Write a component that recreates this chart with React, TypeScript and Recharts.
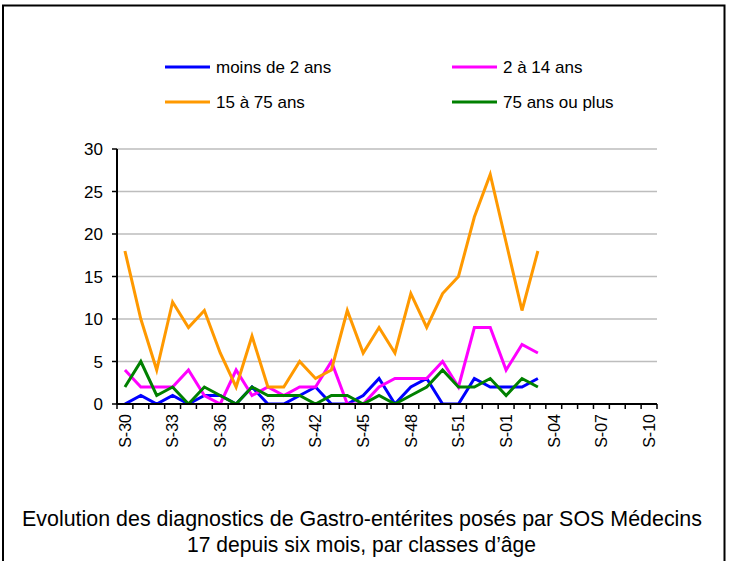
import React from 'react';
import { LineChart, Line, XAxis, YAxis, CartesianGrid, Legend } from 'recharts';

const weeks = [
  'S-30', 'S-31', 'S-32', 'S-33', 'S-34', 'S-35', 'S-36', 'S-37', 'S-38', 'S-39',
  'S-40', 'S-41', 'S-42', 'S-43', 'S-44', 'S-45', 'S-46', 'S-47', 'S-48', 'S-49',
  'S-50', 'S-51', 'S-52', 'S-53', 'S-01', 'S-02', 'S-03', 'S-04', 'S-05', 'S-06',
  'S-07', 'S-08', 'S-09', 'S-10',
];

const moins2 = [0, 1, 0, 1, 0, 1, 1, 0, 2, 0, 0, 1, 2, 0, 0, 1, 3, 0, 2, 3, 0, 0, 3, 2, 2, 2, 3];
const de2a14 = [4, 2, 2, 2, 4, 1, 0, 4, 1, 2, 1, 2, 2, 5, 0, 0, 2, 3, 3, 3, 5, 2, 9, 9, 4, 7, 6];
const de15a75 = [18, 10, 4, 12, 9, 11, 6, 2, 8, 2, 2, 5, 3, 4, 11, 6, 9, 6, 13, 9, 13, 15, 22, 27, 19, 11, 18];
const plus75 = [2, 5, 1, 2, 0, 2, 1, 0, 2, 1, 1, 1, 0, 1, 1, 0, 1, 0, 1, 2, 4, 2, 2, 3, 1, 3, 2];

const yTicks = [0, 5, 10, 15, 20, 25, 30];

const seriesNames = ['moins de 2 ans', '2 à 14 ans', '15 à 75 ans', '75 ans ou plus'];

const titleLines = [
  'Evolution des diagnostics de Gastro-entérites posés par SOS Médecins',
  '17 depuis six mois, par classes d\u2019âge',
];

const data = weeks.map((w, i) => ({
  week: w,
  a: moins2[i],
  b: de2a14[i],
  c: de15a75[i],
  d: plus75[i],
}));

const FONT = '"Liberation Sans", Arial, sans-serif';
const PLOT_W = 540;
const HALF = PLOT_W / weeks.length / 2;

const XTick = (props: any) => {
  const { x, y, payload, index } = props;
  const last = index === weeks.length - 1;
  return (
    <g>
      <line x1={x - HALF} x2={x - HALF} y1={y} y2={y + 5} stroke="#000" strokeWidth={1.5} />
      {last && <line x1={x + HALF} x2={x + HALF} y1={y} y2={y + 5} stroke="#000" strokeWidth={1.5} />}
      {index % 3 === 0 && (
        <text
          x={x}
          y={y + 10}
          transform={`rotate(-90, ${x}, ${y + 10})`}
          textAnchor="end"
          dy="0.36em"
          fontSize={16}
          fontFamily={FONT}
          fill="#000"
        >
          {payload.value}
        </text>
      )}
    </g>
  );
};

const legendPos = [
  { x: 165, y: 67 },
  { x: 452, y: 67 },
  { x: 165, y: 102 },
  { x: 452, y: 102 },
];

const renderLegend = (props: any) => {
  const { payload } = props;
  return (
    <svg width={731} height={130} style={{ display: 'block' }}>
      {(payload || []).map((p: any, i: number) => {
        const idx = seriesNames.indexOf(p.value);
        const pos = legendPos[idx >= 0 ? idx : i];
        return (
          <g key={i}>
            <line x1={pos.x} x2={pos.x + 45} y1={pos.y} y2={pos.y} stroke={p.color} strokeWidth={3} />
            <text x={pos.x + 51} y={pos.y} dy="0.36em" fontSize={17} fontFamily={FONT} fill="#000">
              {p.value}
            </text>
          </g>
        );
      })}
    </svg>
  );
};

export default function App() {
  return (
    <div style={{ position: 'fixed', left: 0, top: 0, width: 731, height: 561, background: '#fff' }}>
      <LineChart
        width={731}
        height={561}
        data={data}
        margin={{ top: 149, right: 74, bottom: 97, left: 0 }}
      >
        <CartesianGrid horizontal vertical={false} stroke="#BDBDBD" strokeWidth={1.5} />
        <XAxis
          dataKey="week"
          interval={0}
          height={60}
          tickSize={0}
          tickMargin={0}
          tickLine={false}
          axisLine={{ stroke: '#000', strokeWidth: 2 }}
          padding={{ left: HALF, right: HALF }}
          tick={<XTick />}
        />
        <YAxis
          width={117}
          domain={[0, 30]}
          ticks={yTicks}
          tickSize={5}
          tickMargin={9}
          axisLine={{ stroke: '#000', strokeWidth: 2 }}
          tickLine={{ stroke: '#000', strokeWidth: 1.5 }}
          tick={{ fontSize: 17, fontFamily: FONT, fill: '#000' }}
          allowDataOverflow
        />
        <Legend
          layout="vertical"
          align="center"
          verticalAlign="middle"
          content={renderLegend}
          wrapperStyle={{ position: 'absolute', left: 0, top: 0, width: 731, height: 130 }}
        />
        <Line type="linear" dataKey="a" name={seriesNames[0]} stroke="#0000FF" strokeWidth={3} dot={false} isAnimationActive={false} />
        <Line type="linear" dataKey="b" name={seriesNames[1]} stroke="#FF00FF" strokeWidth={3} dot={false} isAnimationActive={false} />
        <Line type="linear" dataKey="c" name={seriesNames[2]} stroke="#FF9900" strokeWidth={3} dot={false} isAnimationActive={false} />
        <Line type="linear" dataKey="d" name={seriesNames[3]} stroke="#008000" strokeWidth={3} dot={false} isAnimationActive={false} />
      </LineChart>
      <svg
        width={731}
        height={561}
        style={{ position: 'absolute', left: 0, top: 0, pointerEvents: 'none' }}
      >
        <rect x={3} y={5.5} width={721.5} height={600} fill="none" stroke="#000" strokeWidth={2} />
        <text x={362} y={526} textAnchor="middle" fontSize={22} fontFamily={FONT} fill="#000" textLength={680} lengthAdjust="spacingAndGlyphs">
          {titleLines[0]}
        </text>
        <text x={361.5} y={552} textAnchor="middle" fontSize={22} fontFamily={FONT} fill="#000" textLength={349} lengthAdjust="spacingAndGlyphs">
          {titleLines[1]}
        </text>
      </svg>
    </div>
  );
}
